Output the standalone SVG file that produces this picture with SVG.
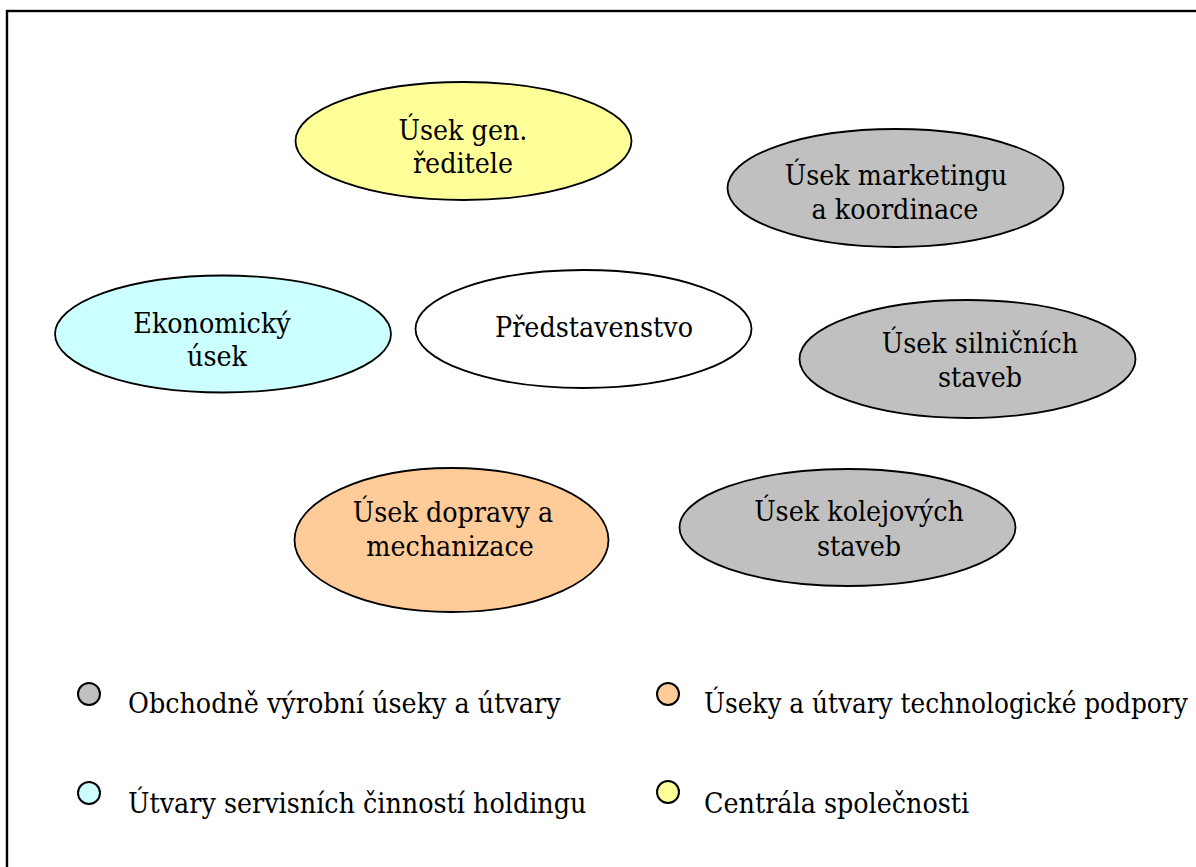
<svg xmlns="http://www.w3.org/2000/svg" width="1196" height="867" viewBox="0 0 1196 867">
<style>
.n{stroke:#000;stroke-width:1.8}
.c{text-anchor:middle}
.lg{stroke:#000;stroke-width:2}
.gray{fill:#C0C0C0}.yel{fill:#FFFF99}.cyan{fill:#CCFFFF}.org{fill:#FFCC99}.wh{fill:#FFFFFF}
</style>
<rect x="0" y="0" width="1196" height="867" fill="#fff"/>
<rect x="7" y="11" width="1400" height="1000" fill="none" stroke="#000" stroke-width="2.4"/>
<g id="connectors"></g>
<g font-family="DejaVu Serif Condensed, DejaVu Serif, serif" font-stretch="condensed" font-size="28.3" fill="#000">
<g id="gen">
<ellipse class="n yel" cx="463.5" cy="141" rx="168" ry="59"/>
<text class="c" x="463" y="140">Úsek gen.</text>
<text class="c" x="463" y="173">ředitele</text>
</g>
<g id="marketing">
<ellipse class="n gray" cx="895.5" cy="188" rx="168" ry="59"/>
<text class="c" x="896" y="185">Úsek marketingu</text>
<text class="c" x="895" y="219">a koordinace</text>
</g>
<g id="ekonomicky">
<ellipse class="n cyan" cx="223" cy="334" rx="168" ry="58.5"/>
<text class="c" x="212" y="333">Ekonomický</text>
<text class="c" x="217" y="366">úsek</text>
</g>
<g id="predstavenstvo">
<ellipse class="n wh" cx="583.5" cy="329" rx="168" ry="59"/>
<text class="c" x="594" y="337">Představenstvo</text>
</g>
<g id="silnicni">
<ellipse class="n gray" cx="967.5" cy="359" rx="168" ry="59"/>
<text class="c" x="980" y="353">Úsek silničních</text>
<text class="c" x="980" y="387">staveb</text>
</g>
<g id="doprava">
<ellipse class="n org" cx="451.5" cy="540" rx="157" ry="72"/>
<text class="c" x="453" y="522">Úsek dopravy a</text>
<text class="c" x="450" y="556">mechanizace</text>
</g>
<g id="kolejove">
<ellipse class="n gray" cx="847.5" cy="527.5" rx="168" ry="58.5"/>
<text class="c" x="859" y="521">Úsek kolejových</text>
<text class="c" x="859" y="556">staveb</text>
</g>
<g id="legend">
<circle class="lg gray" cx="89" cy="694" r="11"/>
<text x="128" y="713">Obchodně výrobní úseky a útvary</text>
<circle class="lg org" cx="668" cy="694" r="11"/>
<text x="704" y="713" font-size="27.6">Úseky a útvary technologické podpory</text>
<circle class="lg cyan" cx="89" cy="793" r="11"/>
<text x="128" y="813">Útvary servisních činností holdingu</text>
<circle class="lg yel" cx="668" cy="792" r="11"/>
<text x="704" y="813">Centrála společnosti</text>
</g>
</g>
</svg>
